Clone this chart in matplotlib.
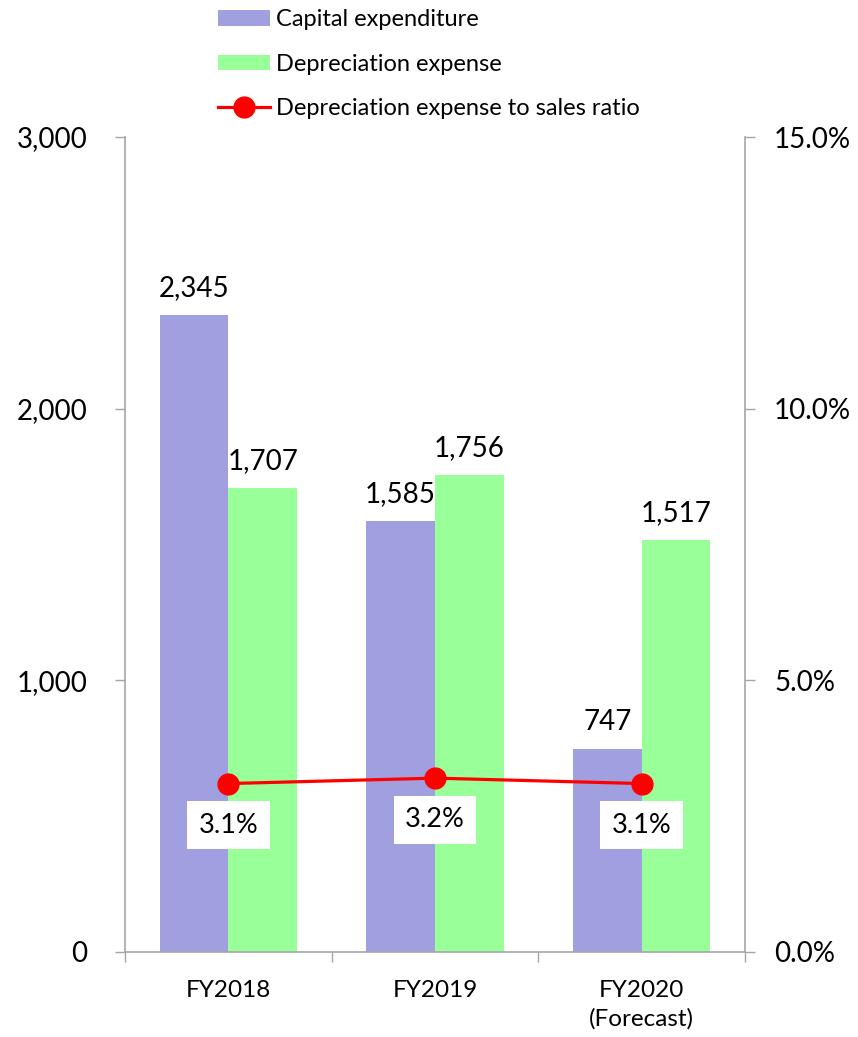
import matplotlib
matplotlib.use("Agg")
import matplotlib.pyplot as plt
import numpy as np
from matplotlib.patches import Patch
from matplotlib.lines import Line2D

plt.rcParams['font.family'] = ['Lato', 'DejaVu Sans']

categories = ["FY2018", "FY2019", "FY2020\n(Forecast)"]
capex = [2345, 1585, 747]
depreciation = [1707, 1756, 1517]
ratio = [3.1, 3.2, 3.1]

left_ticks = [0, 1000, 2000, 3000]
right_ticks = [0.0, 5.0, 10.0, 15.0]

capex_color = "#A0A0E0"
dep_color = "#99FF99"
line_color = "#FF0000"
axis_color = "#A6A6A6"

fig = plt.figure(figsize=(8.58, 10.37), dpi=100)
ax = fig.add_axes([125 / 858, 1 - 952 / 1037, 620 / 858, 815 / 1037])
ax2 = ax.twinx()

x = np.arange(len(categories))
w = 0.333
b1 = ax.bar(x - w / 2, capex, width=w, color=capex_color, zorder=2)
b2 = ax.bar(x + w / 2, depreciation, width=w, color=dep_color, zorder=2)

for bars, vals in ((b1, capex), (b2, depreciation)):
    for rect, v in zip(bars, vals):
        ax.annotate(f"{v:,}", (rect.get_x() + rect.get_width() / 2, v),
                    xytext=(0, 10), textcoords="offset points",
                    ha="center", va="bottom", fontsize=20)

ax.set_xlim(-0.5, len(categories) - 0.5)
ax.set_ylim(0, 3000)
ax.set_yticks(left_ticks)
ax.set_yticklabels([f"{t:,}" for t in left_ticks])
ax.set_xticks(x)
ax.set_xticklabels(categories, fontsize=17.5, linespacing=1.4)
ax.set_xticks(np.arange(len(categories) + 1) - 0.5, minor=True)
ax.tick_params(axis="x", which="major", length=0, pad=20)
ax.tick_params(axis="x", which="minor", length=7, width=1, color=axis_color, direction="out")
ax.tick_params(axis="y", length=7, width=1, color=axis_color, direction="out", pad=20, labelsize=20)

ax2.plot(x, ratio, color=line_color, lw=2.3, marker="o", markersize=15, zorder=3)
for xi, r in zip(x, ratio):
    ax2.annotate(f"{r:.1f}%", (xi, r), xytext=(0, -30), textcoords="offset points",
                 ha="center", va="center", fontsize=19.5,
                 bbox=dict(boxstyle="square,pad=0.42", fc="white", ec="none"))
ax2.set_ylim(0, 15)
ax2.set_yticks(right_ticks)
ax2.set_yticklabels([f"{t:.1f}%" for t in right_ticks])
ax2.tick_params(axis="y", length=7, width=1, color=axis_color, direction="out", pad=14, labelsize=20)

for a in (ax, ax2):
    a.spines["top"].set_visible(False)
    for s in ("left", "right", "bottom"):
        a.spines[s].set_color(axis_color)
        a.spines[s].set_linewidth(1.2)
ax.spines["right"].set_visible(False)
ax2.spines["left"].set_visible(False)
ax2.spines["bottom"].set_visible(False)

handles = [
    Patch(facecolor=capex_color, edgecolor="none"),
    Patch(facecolor=dep_color, edgecolor="none"),
    Line2D([0], [0], color=line_color, lw=2.3, marker="o", markersize=15),
]
labels = ["Capital expenditure", "Depreciation expense", "Depreciation expense to sales ratio"]
fig.legend(handles, labels, loc="upper left", bbox_to_anchor=(218 / 858, 1 - 9 / 1037),
           frameon=False, fontsize=17, handlelength=2.2, handleheight=0.64,
           handletextpad=0.27, labelspacing=1.0, borderpad=0, borderaxespad=0)

fig.savefig("out.png", dpi=100)
